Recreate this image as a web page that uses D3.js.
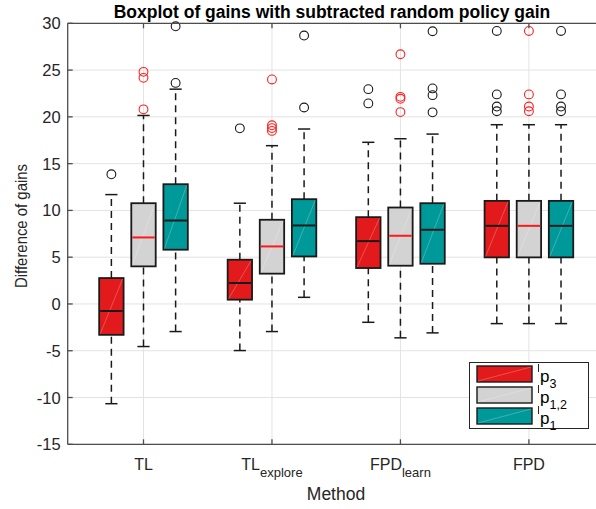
<!DOCTYPE html>
<html>
<head>
<meta charset="utf-8">
<script src="https://cdn.jsdelivr.net/npm/d3@7"></script>
<style>
  html, body { margin: 0; padding: 0; background: #fff; }
  svg { display: block; font-family: "Liberation Sans", Arial, Helvetica, sans-serif; }
</style>
</head>
<body>
<svg id="chart" width="596" height="509"></svg>
<script>
// Methods on the x axis (base text + subscript)
const methods = [
  { base: "TL", sub: "" },
  { base: "TL", sub: "explore" },
  { base: "FPD", sub: "learn" },
  { base: "FPD", sub: "" }
];

// Policy series drawn side by side in each method group
const seriesNames = [
  { base: "p", sub: "3" },
  { base: "p", sub: "1,2" },
  { base: "p", sub: "1" }
];
const seriesFill = ["#e31a1c", "#d3d3d3", "#009999"];
const seriesMedian = ["#1a1a1a", "#ff1a1a", "#1a1a1a"];
const seriesOutlier = ["#1a1a1a", "#ff2020", "#1a1a1a"];

// Box statistics per series, one entry per method: [lower whisker, Q1, median, Q3, upper whisker]
const statsP3 = [
  [-10.66, -3.3, -0.75, 2.77, 11.69],
  [-4.98, 0.46, 2.24, 4.73, 10.77],
  [-1.96, 3.84, 6.72, 9.28, 17.28],
  [-2.1, 4.98, 8.35, 11.02, 19.16]
];
const statsP12 = [
  [-4.55, 4.02, 7.11, 10.77, 20.15],
  [-2.95, 3.24, 6.15, 9.0, 16.92],
  [-3.62, 4.09, 7.29, 10.31, 17.66],
  [-2.1, 4.98, 8.35, 11.02, 19.16]
];
const statsP1 = [
  [-2.95, 5.8, 8.92, 12.8, 22.96],
  [0.71, 5.08, 8.39, 11.2, 18.7],
  [-3.09, 4.3, 7.93, 10.77, 18.16],
  [-2.1, 4.98, 8.35, 11.02, 19.16]
];

// Outliers per series, one list per method
const outliersP3 = [
  [13.86],
  [18.77],
  [22.96, 21.44],
  [29.18, 22.4, 21.1, 20.6]
];
const outliersP12 = [
  [24.81, 24.17, 20.8],
  [24.0, 19.1, 18.8, 18.5],
  [26.69, 22.14, 21.93, 20.51],
  [29.18, 22.4, 21.1, 20.6]
];
const outliersP1 = [
  [29.68, 23.63],
  [28.69, 21.0],
  [29.15, 23.04, 22.32, 20.48],
  [29.18, 22.4, 21.1, 20.6]
];

const yTicks = [-15, -10, -5, 0, 5, 10, 15, 20, 25, 30];

const allStats = [statsP3, statsP12, statsP1];
const allOutliers = [outliersP3, outliersP12, outliersP1];

const svg = d3.select("#chart");
const plotLeft = 67.7, plotRight = 597, plotTop = 23.3, plotBottom = 444.3;

const x = d3.scaleLinear().domain([0.41, 4.53]).range([plotLeft, plotRight]);
const y = d3.scaleLinear().domain([-15, 30]).range([plotBottom, plotTop]);
const offsets = [-0.25, 0, 0.25];
const boxW = 0.19;
const capW = 0.095;

const axisColor = "#4d4d4d";
const gridColor = "#e3e3e3";

// Grid lines
const grid = svg.append("g");
grid.selectAll("line.hg").data(yTicks).join("line")
  .attr("x1", plotLeft).attr("x2", plotRight)
  .attr("y1", d => y(d)).attr("y2", d => y(d))
  .attr("stroke", gridColor).attr("stroke-width", 1);
grid.selectAll("line.vg").data(methods.map((m, i) => i + 1)).join("line")
  .attr("x1", d => x(d)).attr("x2", d => x(d))
  .attr("y1", plotTop).attr("y2", plotBottom)
  .attr("stroke", gridColor).attr("stroke-width", 1);

// Box plots
const plot = svg.append("g");
allStats.forEach((stats, s) => {
  stats.forEach((st, m) => {
    const cx = m + 1 + offsets[s];
    const [lo, q1, med, q3, hi] = st;
    const g = plot.append("g");
    // whiskers
    [[lo, q1], [q3, hi]].forEach(([a, b]) => {
      g.append("line")
        .attr("x1", x(cx)).attr("x2", x(cx))
        .attr("y1", y(a)).attr("y2", y(b))
        .attr("stroke", "#1a1a1a").attr("stroke-width", 1.5)
        .attr("stroke-dasharray", "7,5");
    });
    [lo, hi].forEach(v => {
      g.append("line")
        .attr("x1", x(cx - capW / 2)).attr("x2", x(cx + capW / 2))
        .attr("y1", y(v)).attr("y2", y(v))
        .attr("stroke", "#1a1a1a").attr("stroke-width", 1.5);
    });
    // box
    const bx = x(cx - boxW / 2), bw = x(cx + boxW / 2) - x(cx - boxW / 2);
    g.append("rect")
      .attr("x", bx).attr("y", y(q3))
      .attr("width", bw).attr("height", y(q1) - y(q3))
      .attr("fill", seriesFill[s]).attr("stroke", "#1a1a1a").attr("stroke-width", 1.8);
    // faint diagonal seam of the filled patch
    g.append("line")
      .attr("x1", bx + 1).attr("y1", y(q1) - 1)
      .attr("x2", bx + bw - 1).attr("y2", y(q3) + 1)
      .attr("stroke", "#ffffff").attr("stroke-opacity", 0.3).attr("stroke-width", 0.8);
    // median
    g.append("line")
      .attr("x1", bx + 1).attr("x2", bx + bw - 1)
      .attr("y1", y(med)).attr("y2", y(med))
      .attr("stroke", seriesMedian[s]).attr("stroke-width", 2);
    // outliers
    g.selectAll("circle").data(allOutliers[s][m]).join("circle")
      .attr("cx", x(cx)).attr("cy", d => y(d)).attr("r", 4.4)
      .attr("fill", "none").attr("stroke", seriesOutlier[s]).attr("stroke-width", 1.1);
  });
});

// Axes frame
const axes = svg.append("g");
axes.append("line").attr("x1", plotLeft).attr("x2", plotRight).attr("y1", plotTop).attr("y2", plotTop)
  .attr("stroke", axisColor).attr("stroke-width", 1.3);
axes.append("line").attr("x1", plotLeft).attr("x2", plotRight).attr("y1", plotBottom).attr("y2", plotBottom)
  .attr("stroke", axisColor).attr("stroke-width", 1.3);
axes.append("line").attr("x1", plotLeft).attr("x2", plotLeft).attr("y1", plotTop).attr("y2", plotBottom)
  .attr("stroke", axisColor).attr("stroke-width", 1.3);

// y ticks (inward) and labels
axes.selectAll("line.yt").data(yTicks).join("line")
  .attr("x1", plotLeft).attr("x2", plotLeft + 5)
  .attr("y1", d => y(d)).attr("y2", d => y(d))
  .attr("stroke", axisColor).attr("stroke-width", 1.3);
axes.selectAll("text.yl").data(yTicks).join("text")
  .attr("x", plotLeft - 7).attr("y", d => y(d) + 6)
  .attr("text-anchor", "end").attr("font-size", 16.5).attr("fill", "#262626")
  .text(d => d);

// x ticks (inward, bottom and top) and labels
methods.forEach((mt, i) => {
  const px = x(i + 1);
  axes.append("line").attr("x1", px).attr("x2", px).attr("y1", plotBottom).attr("y2", plotBottom - 5)
    .attr("stroke", axisColor).attr("stroke-width", 1.3);
  axes.append("line").attr("x1", px).attr("x2", px).attr("y1", plotTop).attr("y2", plotTop + 5)
    .attr("stroke", axisColor).attr("stroke-width", 1.3);
  const t = axes.append("text")
    .attr("x", px).attr("y", 469.5)
    .attr("text-anchor", "middle").attr("font-size", 16).attr("fill", "#262626");
  t.append("tspan").text(mt.base);
  if (mt.sub) {
    t.append("tspan").attr("dy", 7).attr("font-size", 13).text(mt.sub);
  }
});

// Axis titles
svg.append("text")
  .attr("x", 336).attr("y", 500)
  .attr("text-anchor", "middle").attr("font-size", 17.5).attr("fill", "#262626")
  .text("Method");
svg.append("text")
  .attr("transform", "translate(27,226) rotate(-90)")
  .attr("text-anchor", "middle").attr("font-size", 16.5).attr("fill", "#262626")
  .attr("textLength", 124).attr("lengthAdjust", "spacingAndGlyphs")
  .text("Difference of gains");

// Title
svg.append("text")
  .attr("x", 332).attr("y", 18)
  .attr("text-anchor", "middle").attr("font-size", 17.5).attr("font-weight", "bold").attr("fill", "#000")
  .text("Boxplot of gains with subtracted random policy gain");

// Legend
const lg = svg.append("g");
lg.append("rect").attr("x", 469.5).attr("y", 362.5).attr("width", 119).attr("height", 66)
  .attr("fill", "#fff").attr("stroke", "#262626").attr("stroke-width", 1);
const rowTop = [366, 387, 408];
seriesNames.forEach((sn, i) => {
  const ty = rowTop[i];
  lg.append("rect").attr("x", 477).attr("y", ty).attr("width", 55).attr("height", 16)
    .attr("fill", seriesFill[i]).attr("stroke", "#1a1a1a").attr("stroke-width", 1.4);
  lg.append("line").attr("x1", 478).attr("y1", ty + 15).attr("x2", 531).attr("y2", ty + 1)
    .attr("stroke", "#fff").attr("stroke-opacity", 0.3).attr("stroke-width", 0.8);
  lg.append("line").attr("x1", 538.5).attr("x2", 538.5).attr("y1", ty - 2).attr("y2", ty + 6)
    .attr("stroke", "#262626").attr("stroke-width", 1);
  const t = lg.append("text").attr("x", 540).attr("y", ty + 16)
    .attr("font-size", 17).attr("fill", "#000");
  t.append("tspan").text(sn.base);
  t.append("tspan").attr("dy", 6).attr("font-size", 12.5).text(sn.sub);
});
</script>
</body>
</html>
